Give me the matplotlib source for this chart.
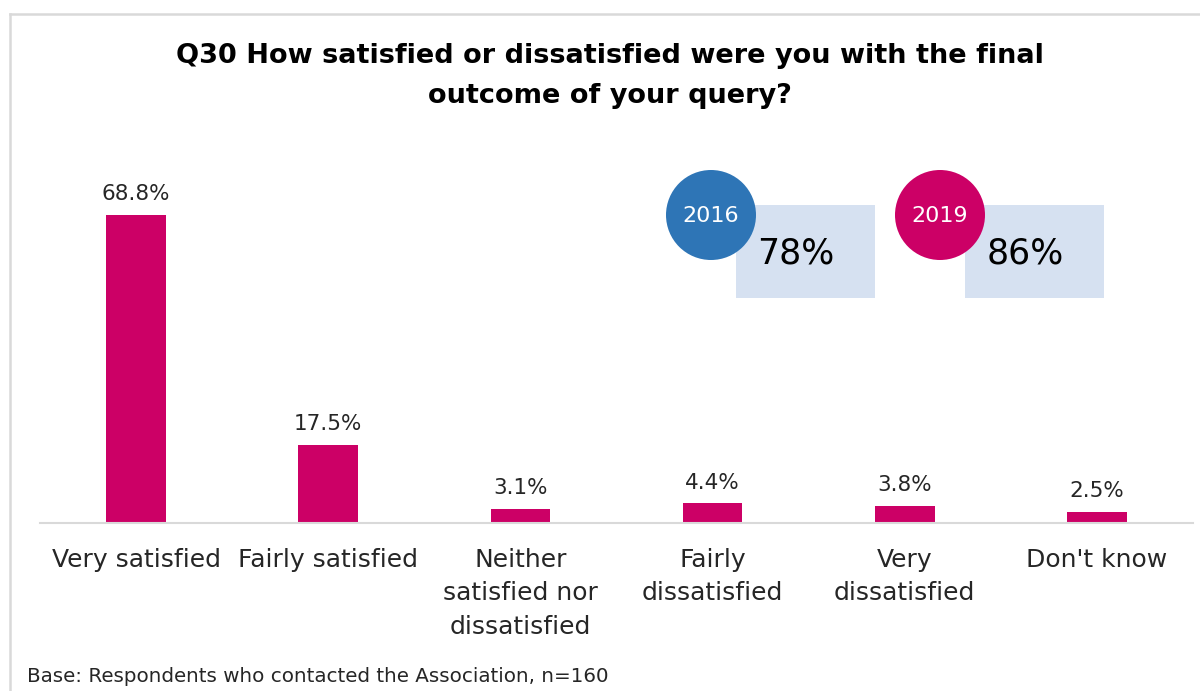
import matplotlib.pyplot as plt
import matplotlib.patches as mpatches
from matplotlib.lines import Line2D

# Survey results, Q30
categories = ["Very satisfied", "Fairly satisfied", "Neither\nsatisfied nor\ndissatisfied",
              "Fairly\ndissatisfied", "Very\ndissatisfied", "Don't know"]
values = [68.8, 17.5, 3.1, 4.4, 3.8, 2.5]

# Overall satisfaction by survey year
years = ["2016", "2019"]
year_totals = [78, 86]
year_colors = ["#2E75B6", "#CC0066"]

bar_color = "#CC0066"
plt.rcParams['font.family'] = ['DejaVu Sans']

fig = plt.figure(figsize=(12, 6.91), dpi=100)

ax = fig.add_axes([40 / 1200, 168 / 691, 1153 / 1200, 353 / 691])
x = list(range(len(categories)))
bars = ax.bar(x, values, width=0.31, color=bar_color, zorder=2)
for xi, v in zip(x, values):
    ax.text(xi, v + 2.4, f"{v:.1f}%", ha="center", va="bottom", fontsize=15.5, color="#262626")

ax.set_xlim(-0.5, len(categories) - 0.5)
ax.set_ylim(0, 78.85)
ax.set_yticks([])
ax.set_xticks(x)
ax.set_xticklabels(categories, fontsize=18, color="#262626", linespacing=1.5)
ax.tick_params(axis="x", length=0, pad=18)
for side in ["top", "right", "left"]:
    ax.spines[side].set_visible(False)
ax.spines["bottom"].set_color("#D9D9D9")
ax.spines["bottom"].set_linewidth(1.5)
ax.patch.set_alpha(0)

# overlay in pixel coordinates for title, badges and frame
ov = fig.add_axes([0, 0, 1, 1], zorder=5)
ov.set_xlim(0, 1200)
ov.set_ylim(691, 0)
ov.axis("off")

ov.add_line(Line2D([10, 1200], [14, 14], color="#D9D9D9", lw=1.8))
ov.add_line(Line2D([10, 10], [14, 691], color="#D9D9D9", lw=1.8))

ov.text(610, 76, "Q30 How satisfied or dissatisfied were you with the final\noutcome of your query?",
        ha="center", va="center", fontsize=19.5, fontweight="bold", color="black", linespacing=1.72)

for i, (yr, tot, col) in enumerate(zip(years, year_totals, year_colors)):
    cx = 711 + i * 229
    ov.add_patch(mpatches.Rectangle((cx + 25, 205), 139, 93, facecolor="#D6E1F1", edgecolor="none"))
    ov.add_patch(mpatches.Circle((cx, 215), 45, facecolor=col, edgecolor="none"))
    ov.text(cx, 216, yr, ha="center", va="center", fontsize=16, color="white")
    ov.text(cx + 85, 253, f"{tot}%", ha="center", va="center", fontsize=25, color="black")

ov.text(27, 677, "Base: Respondents who contacted the Association, n=160",
        ha="left", va="center", fontsize=14.3, color="#262626")

fig.savefig("out.png", dpi=100)
